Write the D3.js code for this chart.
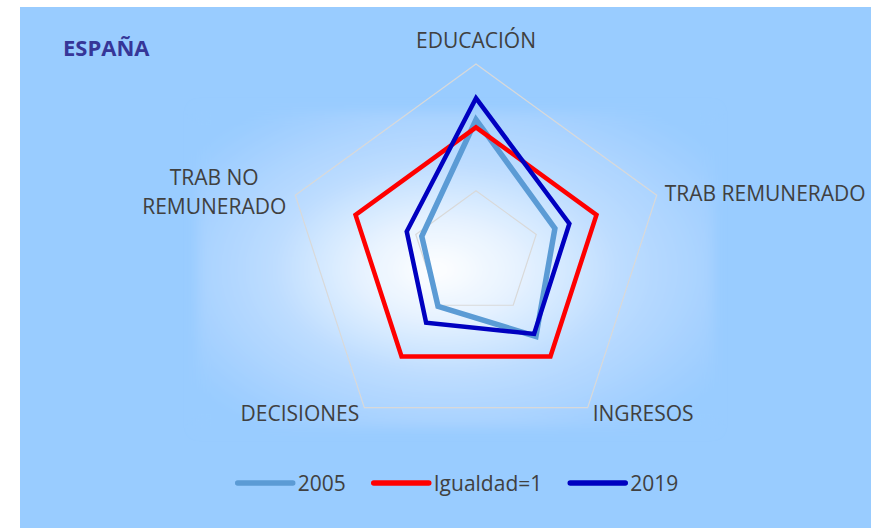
<!DOCTYPE html>
<html>
<head>
<meta charset="utf-8">
<script src="https://cdn.jsdelivr.net/npm/d3@7"></script>
<style>
  html, body { margin: 0; padding: 0; background: #ffffff; }
  svg { display: block; }
  text { font-family: "Open Sans", sans-serif; }
</style>
</head>
<body>
<svg id="chart" width="871" height="528"></svg>
<script>
// ---- data ----
const title = "ESPAÑA";
const categories = ["EDUCACIÓN", "TRAB REMUNERADO", "INGRESOS", "DECISIONES", "TRAB NO REMUNERADO"];
const seriesNames = ["2005", "Igualdad=1", "2019"];
const values2005 = [1.06, 0.655, 0.805, 0.51, 0.45];
const valuesIgualdad = [1, 1, 1, 1, 1];
const values2019 = [1.23, 0.775, 0.78, 0.67, 0.575];
const gridTicks = [0.5, 1, 1.5];

// ---- layout / style ----
const W = 871, H = 528;
const cx = 476, cy = 254, R = 190;
const colors = { "2005": "#5B9BD5", "Igualdad=1": "#FF0000", "2019": "#0000C0" };
const widths = { "2005": 5.5, "Igualdad=1": 4.5, "2019": 4.5 };

const svg = d3.select("#chart");
const defs = svg.append("defs");

// background panel
svg.append("rect").attr("x", 20).attr("y", 7).attr("width", W - 20).attr("height", H - 7).attr("fill", "#99CCFF");

// soft central gradient
const grad = defs.append("radialGradient").attr("id", "glow")
  .attr("cx", "0.5").attr("cy", "0.5").attr("r", "0.62").attr("fx", "0.46").attr("fy", "0.5");
grad.append("stop").attr("offset", "0").attr("stop-color", "#ffffff");
grad.append("stop").attr("offset", "0.25").attr("stop-color", "#e6f2ff");
grad.append("stop").attr("offset", "0.55").attr("stop-color", "#bcdcff");
grad.append("stop").attr("offset", "0.85").attr("stop-color", "#a4d0ff");
grad.append("stop").attr("offset", "1").attr("stop-color", "#99CCFF");
const blur = defs.append("filter").attr("id", "soft").attr("x", "-0.1").attr("y", "-0.1").attr("width", "1.2").attr("height", "1.2");
blur.append("feGaussianBlur").attr("stdDeviation", 6);
svg.append("rect").attr("x", 197).attr("y", 111).attr("width", 517).attr("height", 317)
  .attr("fill", "url(#glow)").attr("filter", "url(#soft)");

// scales
const n = categories.length;
const angle = d3.scaleBand().domain(categories).range([0, 2 * Math.PI]).align(0);
const r = d3.scaleLinear().domain([0, 1.5]).range([0, R]);
const ang = c => angle(c);
const pt = (c, v) => [cx + r(v) * Math.sin(ang(c)), cy - r(v) * Math.cos(ang(c))];

const g = svg.append("g");

// grid rings
const ringLine = d3.line().curve(d3.curveLinearClosed);
g.selectAll(".ring").data(gridTicks).join("path")
  .attr("class", "ring")
  .attr("d", t => ringLine(categories.map(c => pt(c, t))))
  .attr("fill", "none").attr("stroke", "#d9d9d9").attr("stroke-width", 1.2);

// series
const series = [
  { name: seriesNames[0], values: values2005 },
  { name: seriesNames[1], values: valuesIgualdad },
  { name: seriesNames[2], values: values2019 }
];
const radarLine = d3.lineRadial().curve(d3.curveLinearClosed)
  .angle((d, i) => ang(categories[i])).radius(d => r(d));
g.append("g").attr("transform", `translate(${cx},${cy})`)
  .selectAll(".series").data(series).join("path")
  .attr("class", "series")
  .attr("d", s => radarLine(s.values))
  .attr("fill", "none")
  .attr("stroke", s => colors[s.name])
  .attr("stroke-width", s => widths[s.name])
  .attr("stroke-linejoin", "miter");

// axis labels
const labelColor = "#404040";
const fs = 21;
const lab = svg.append("g").attr("font-size", fs).attr("fill", labelColor);
categories.forEach(c => {
  const [x, y] = pt(c, 1.5);
  const s = Math.sin(ang(c)), co = Math.cos(ang(c));
  if (Math.abs(s) < 0.1) {
    lab.append("text").attr("x", x).attr("y", y - 16).attr("text-anchor", "middle").text(c);
  } else if (co > 0) {
    // upper side labels
    if (s > 0) {
      lab.append("text").attr("x", x + 8).attr("y", y + 6).attr("text-anchor", "start").text(c);
    } else {
      const words = c.split(" ");
      const lines = [words.slice(0, 2).join(" "), words.slice(2).join(" ")];
      const t = lab.append("text").attr("text-anchor", "middle");
      const tmp = lab.append("text").text(lines[1]);
      const w = tmp.node().getComputedTextLength();
      tmp.remove();
      const mx = x - 9 - w / 2;
      t.append("tspan").attr("x", mx).attr("y", y - 10).text(lines[0]);
      t.append("tspan").attr("x", mx).attr("y", y + 19).text(lines[1]);
    }
  } else {
    lab.append("text").attr("x", s > 0 ? x + 5 : x - 5).attr("y", y + 13)
      .attr("text-anchor", s > 0 ? "start" : "end").text(c);
  }
});

// title
svg.append("text").attr("x", 63).attr("y", 56).attr("font-size", 22).attr("font-weight", "bold")
  .attr("fill", "#363698").text(title);

// legend
const leg = svg.append("g");
const lineLen = 55, gapText = 5, gapItem = 28, legY = 483;
let xpos = 0;
const items = [];
seriesNames.forEach(nm => {
  const gi = leg.append("g");
  gi.append("line").attr("x1", xpos).attr("x2", xpos + lineLen).attr("y1", legY).attr("y2", legY)
    .attr("stroke", colors[nm]).attr("stroke-width", 5.5).attr("stroke-linecap", "round");
  const t = gi.append("text").attr("x", xpos + lineLen + gapText).attr("y", legY + 8)
    .attr("font-size", fs).attr("fill", labelColor).text(nm);
  xpos += lineLen + gapText + t.node().getComputedTextLength() + gapItem;
});
const total = xpos - gapItem;
leg.attr("transform", `translate(${458 - total / 2},0)`);
</script>
</body>
</html>
